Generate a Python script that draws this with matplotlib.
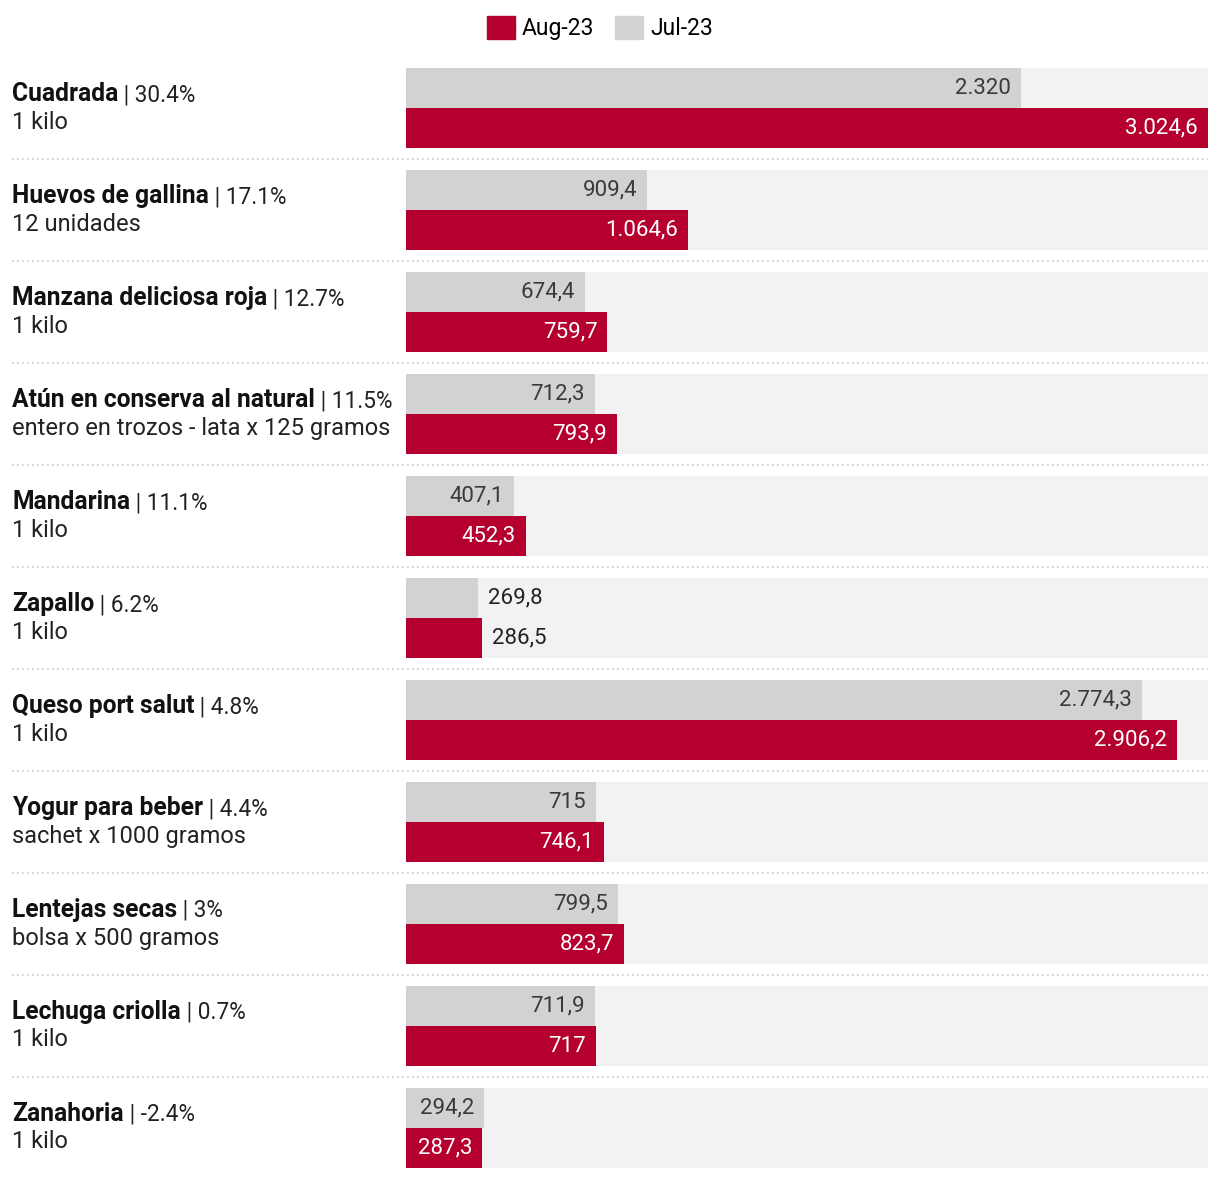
import matplotlib.pyplot as plt
import matplotlib
from matplotlib.patches import Patch
from matplotlib.transforms import blended_transform_factory

matplotlib.rcParams['font.family'] = ['Roboto', 'DejaVu Sans']
matplotlib.rcParams['font.size'] = 16

names = ['Cuadrada', 'Huevos de gallina', 'Manzana deliciosa roja', 'Atún en conserva al natural',
         'Mandarina', 'Zapallo', 'Queso port salut', 'Yogur para beber', 'Lentejas secas',
         'Lechuga criolla', 'Zanahoria']
pcts = ['30.4%', '17.1%', '12.7%', '11.5%', '11.1%', '6.2%', '4.8%', '4.4%', '3%', '0.7%', '-2.4%']
units = ['1 kilo', '12 unidades', '1 kilo', 'entero en trozos - lata x 125 gramos', '1 kilo', '1 kilo',
         '1 kilo', 'sachet x 1000 gramos', 'bolsa x 500 gramos', '1 kilo', '1 kilo']
jul = [2320, 909.4, 674.4, 712.3, 407.1, 269.8, 2774.3, 715, 799.5, 711.9, 294.2]
aug = [3024.6, 1064.6, 759.7, 793.9, 452.3, 286.5, 2906.2, 746.1, 823.7, 717, 287.3]

RED = '#b5002f'
GREY = '#d2d2d2'
BG = '#f2f2f2'


def fmt(v):
    # formato español: 2.320 / 1.064,6
    if float(v).is_integer():
        s = f'{int(v):,}'.replace(',', '.')
    else:
        s = f'{v:,.1f}'.replace(',', 'X').replace('.', ',').replace('X', '.')
    return s


W, H = 1220, 1180
fig = plt.figure(figsize=(W / 100, H / 100), dpi=100)
ax = fig.add_axes([406 / W, 1 - 1168 / H, 802 / W, 1100 / H])

pitch = 102
bh = 40 / pitch
n = len(names)
xmax = max(aug)
ax.set_xlim(0, xmax)
ax.set_ylim((n - 1) + 80 / pitch, 0)
ax.axis('off')

trans = blended_transform_factory(fig.transFigure, ax.transData)
pad = xmax * 10 / 802
threshold = 287

for i in range(n):
    y_j = i + bh / 2
    y_a = i + bh * 1.5
    ax.barh(i + bh, xmax, height=2 * bh, color=BG, zorder=1)
    ax.barh(y_j, jul[i], height=bh, color=GREY, zorder=2)
    ax.barh(y_a, aug[i], height=bh, color=RED, zorder=2)

    if jul[i] >= threshold:
        ax.text(jul[i] - pad, y_j, fmt(jul[i]), ha='right', va='center', color='#3a3a3a', zorder=3)
    else:
        ax.text(jul[i] + pad, y_j, fmt(jul[i]), ha='left', va='center', color='#222222', zorder=3)
    if aug[i] >= threshold:
        ax.text(aug[i] - pad, y_a, fmt(aug[i]), ha='right', va='center', color='white', zorder=3)
    else:
        ax.text(aug[i] + pad, y_a, fmt(aug[i]), ha='left', va='center', color='#222222', zorder=3)

    # etiquetas a la izquierda
    t = ax.text(12 / W, i + 26 / pitch, names[i], transform=trans, ha='left', va='center',
                fontweight='bold', color='#111111', fontsize=17.7)
    ax.annotate(' | ' + pcts[i], xy=(1, 0), xycoords=t, ha='left', va='bottom',
                color='#222222', fontsize=16.3)
    ax.text(12 / W, i + 54 / pitch, units[i], transform=trans, ha='left', va='center',
            color='#222222', fontsize=17)

    if i > 0:
        ax.plot([12 / W, 1208 / W], [i - 11 / pitch] * 2, transform=trans, clip_on=False,
                color='#c8c8c8', linestyle=(0, (1, 2)), linewidth=1.2)

handles = [Patch(color=RED, label='Aug-23'), Patch(color=GREY, label='Jul-23')]
fig.legend(handles=handles, loc='center', bbox_to_anchor=(600 / W, 1 - 28 / H), ncol=2,
           frameon=False, handlelength=1.22, handleheight=1.22, handletextpad=0.3,
           columnspacing=0.9, fontsize=16.5)

fig.savefig('out.png', dpi=100)
